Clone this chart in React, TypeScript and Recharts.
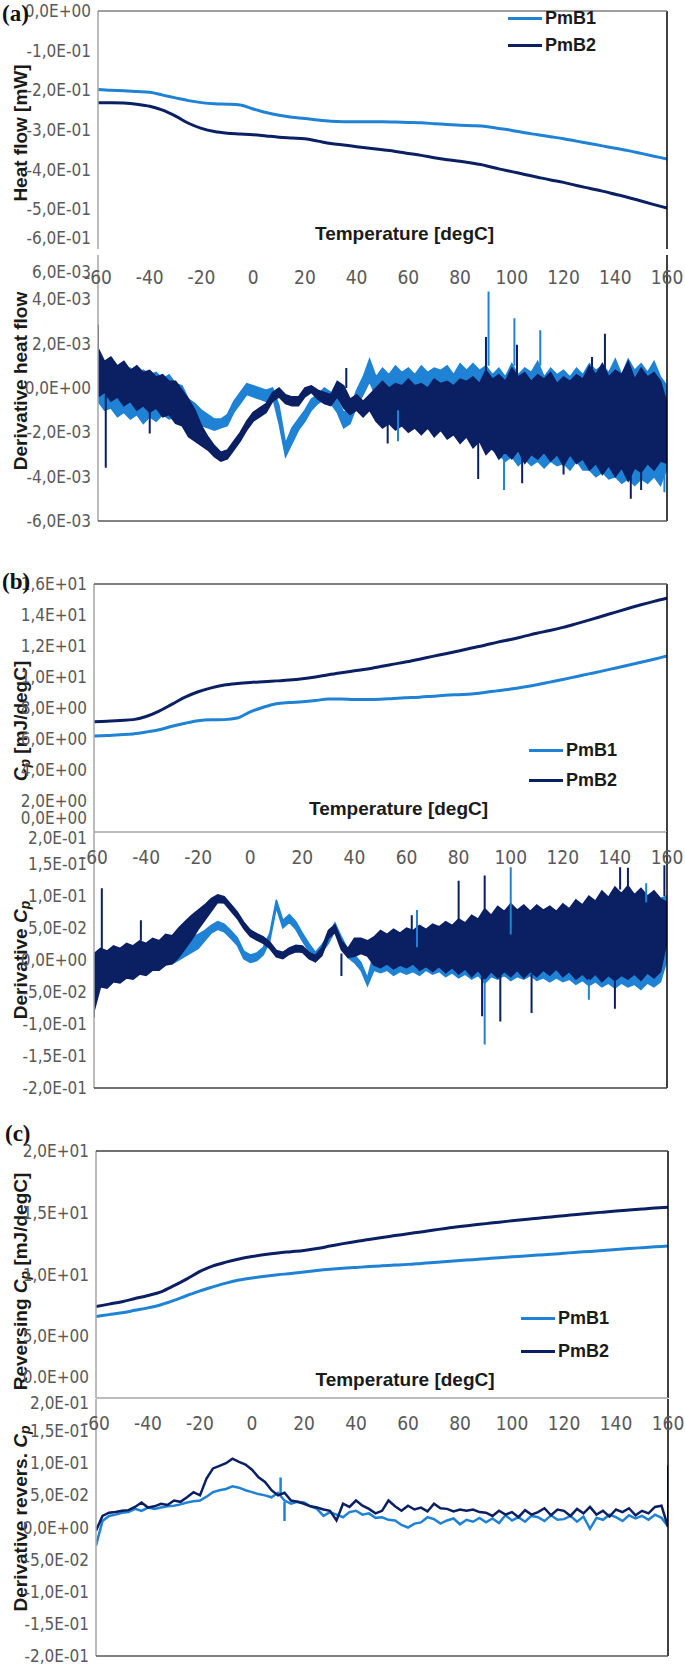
import React from 'react';
import { ComposedChart, Line, Area, XAxis, YAxis, ReferenceLine, Legend } from 'recharts';

const LIGHT = '#1f82d4';
const DARK = '#0b1f63';
const NARROW = "'Liberation Sans Narrow', 'Arial Narrow', 'DejaVu Sans Condensed', sans-serif";
const SANS = "'Liberation Sans', Arial, sans-serif";

const tempTicks = [-60, -40, -20, 0, 20, 40, 60, 80, 100, 120, 140, 160];

// smooth curves, read every 5 degC
const smoothTemps = [-60, -55, -50, -45, -40, -35, -30, -25, -20, -15, -10, -5, 0, 5, 10, 15, 20, 25, 30, 35, 40, 45, 50, 55, 60, 65, 70, 75, 80, 85, 90, 95, 100, 105, 110, 115, 120, 125, 130, 135, 140, 145, 150, 155, 160];
const hfB1 = [-0.198, -0.200, -0.201, -0.203, -0.205, -0.212, -0.219, -0.226, -0.231, -0.234, -0.235, -0.237, -0.247, -0.256, -0.263, -0.268, -0.271, -0.275, -0.278, -0.279, -0.279, -0.279, -0.279, -0.280, -0.281, -0.282, -0.284, -0.286, -0.288, -0.289, -0.291, -0.296, -0.301, -0.307, -0.312, -0.317, -0.322, -0.328, -0.334, -0.340, -0.346, -0.352, -0.359, -0.366, -0.373];
const hfB2 = [-0.231, -0.231, -0.232, -0.235, -0.240, -0.250, -0.265, -0.283, -0.296, -0.304, -0.308, -0.310, -0.312, -0.315, -0.318, -0.320, -0.322, -0.328, -0.334, -0.338, -0.342, -0.346, -0.350, -0.354, -0.359, -0.364, -0.370, -0.375, -0.379, -0.384, -0.390, -0.398, -0.405, -0.412, -0.419, -0.426, -0.432, -0.440, -0.447, -0.454, -0.462, -0.470, -0.479, -0.488, -0.497];
const cpB1 = [6.19, 6.22, 6.27, 6.33, 6.45, 6.6, 6.82, 7.02, 7.18, 7.24, 7.25, 7.35, 7.75, 8.05, 8.28, 8.35, 8.4, 8.48, 8.58, 8.58, 8.55, 8.55, 8.57, 8.62, 8.66, 8.7, 8.76, 8.82, 8.86, 8.9, 9.0, 9.12, 9.22, 9.35, 9.5, 9.67, 9.84, 10.02, 10.2, 10.38, 10.57, 10.76, 10.95, 11.15, 11.35];
const cpB2 = [7.12, 7.15, 7.2, 7.25, 7.45, 7.8, 8.25, 8.7, 9.05, 9.3, 9.48, 9.58, 9.65, 9.7, 9.75, 9.8, 9.88, 10.0, 10.15, 10.28, 10.4, 10.52, 10.68, 10.83, 10.98, 11.15, 11.33, 11.5, 11.68, 11.87, 12.05, 12.25, 12.42, 12.62, 12.82, 13.0, 13.2, 13.43, 13.67, 13.92, 14.17, 14.42, 14.66, 14.88, 15.08];
const revB1 = [6.6, 6.75, 6.9, 7.1, 7.3, 7.55, 7.9, 8.3, 8.68, 9.0, 9.3, 9.55, 9.72, 9.86, 9.98, 10.08, 10.2, 10.32, 10.42, 10.5, 10.57, 10.64, 10.7, 10.76, 10.82, 10.9, 10.98, 11.05, 11.13, 11.2, 11.28, 11.36, 11.43, 11.5, 11.57, 11.64, 11.72, 11.8, 11.87, 11.95, 12.02, 12.1, 12.17, 12.24, 12.31];
const revB2 = [7.4, 7.6, 7.8, 8.05, 8.3, 8.6, 9.1, 9.65, 10.25, 10.7, 11.0, 11.25, 11.45, 11.62, 11.75, 11.85, 11.95, 12.1, 12.3, 12.5, 12.68, 12.83, 13.0, 13.15, 13.3, 13.45, 13.6, 13.75, 13.88, 14.0, 14.12, 14.24, 14.35, 14.46, 14.56, 14.66, 14.76, 14.86, 14.96, 15.05, 15.14, 15.22, 15.3, 15.38, 15.44];

// derivative curves, read every 2.5 degC (noisy parts as low/high band edges)
const derivTemps = [-60, -57.5, -55, -52.5, -50, -47.5, -45, -42.5, -40, -37.5, -35, -32.5, -30, -27.5, -25, -22.5, -20, -17.5, -15, -12.5, -10, -7.5, -5, -2.5, 0, 2.5, 5, 7.5, 10, 12.5, 15, 17.5, 20, 22.5, 25, 27.5, 30, 32.5, 35, 37.5, 40, 42.5, 45, 47.5, 50, 52.5, 55, 57.5, 60, 62.5, 65, 67.5, 70, 72.5, 75, 77.5, 80, 82.5, 85, 87.5, 90, 92.5, 95, 97.5, 100, 102.5, 105, 107.5, 110, 112.5, 115, 117.5, 120, 122.5, 125, 127.5, 130, 132.5, 135, 137.5, 140, 142.5, 145, 147.5, 150, 152.5, 155, 157.5, 160];

// derivative heat flow, x1e-3
const dhfB1Lo = [-0.6, -1.0, -0.9, -1.3, -1.1, -1.4, -1.2, -1.6, -1.3, -1.5, -1.2, -1.4, -1.3, -1.2,
  -1.3, -1.5, -1.7, -1.8, -1.9, -1.8, -1.7, -1.1, -0.7, -0.3, -0.4, -0.5, -0.6, -0.4, -1.6, -3.1, -2.5, -1.9, -1.5, -1.0, -0.7, -0.5, -0.7, -1.1, -1.8, -1.6, -0.8, -0.3, 0.3,
  -0.4, -0.8, -1.0, -0.9, -1.1, -1.0, -1.2, -1.1, -1.3, -1.2, -1.4, -1.3, -1.6, -1.5, -1.8, -1.7, -2.1, -2.4, -2.8, -3.0, -3.3, -3.1, -3.5, -3.2, -3.5, -3.3, -3.6, -3.3, -3.5, -3.4, -3.7, -3.3, -3.7, -3.7, -4.0, -3.8, -4.1, -4.0, -4.3, -4.1, -4.4, -4.1, -4.3, -4.0, -4.4, -3.6];
const dhfB1Hi = [1.6, 1.1, 0.9, 1.0, 0.8, 0.9, 0.6, 0.8, 0.6, 0.7, 0.4, 0.6, 0.2, 0.1,
  -0.5, -0.7, -1.0, -1.2, -1.4, -1.4, -1.2, -0.6, -0.2, 0.2, 0.1, 0.0, -0.1, 0.0, -0.8, -2.5, -1.8, -1.4, -1.0, -0.5, -0.3, 0.0, -0.2, -0.5, -1.1, -0.9, -0.1, 0.5, 1.3,
  0.5, 0.9, 0.6, 1.0, 0.7, 0.9, 0.6, 1.0, 0.7, 0.9, 0.8, 1.0, 0.6, 1.1, 0.8, 1.1, 0.8, 1.0, 0.6, 0.9, 0.5, 1.1, 0.6, 0.9, 0.7, 1.2, 0.5, 0.9, 0.6, 0.8, 0.5, 0.9, 0.6, 1.1, 0.8, 1.0, 0.7, 1.3, 0.6, 1.3, 0.8, 1.1, 0.7, 1.2, 0.5, 0.1];
const dhfB2Lo = [-0.4, -0.2, -0.6, -0.4, -0.8, -0.6, -1.0, -0.8, -1.1, -0.9, -1.3, -1.2, -1.6, -1.7,
  -2.2, -2.4, -2.6, -2.8, -3.1, -3.3, -3.2, -2.8, -2.4, -1.9, -1.5, -1.3, -1.1, -0.6, -0.4, -0.7, -0.8, -0.8, -0.4, -0.2, -0.5, -0.7, -0.8, -0.4, -0.9, -1.2, -1.0, -1.3, -1.0,
  -1.5, -1.8, -1.6, -1.9, -1.7, -2.0, -1.8, -2.1, -1.8, -2.2, -1.9, -2.3, -2.1, -2.5, -2.2, -2.7, -2.4, -3.0, -2.7, -3.2, -2.9, -3.2, -2.8, -3.4, -3.0, -3.2, -2.9, -3.3, -3.0, -3.5, -3.0, -3.4, -3.2, -3.7, -3.4, -3.9, -3.5, -4.0, -3.6, -4.2, -3.6, -3.8, -3.4, -3.7, -3.3, -3.4];
const dhfB2Hi = [1.8, 1.2, 1.4, 1.0, 1.2, 0.8, 1.0, 0.7, 0.8, 0.5, 0.6, 0.3, 0.3, -0.1,
  -0.5, -1.0, -1.7, -2.2, -2.6, -2.9, -2.8, -2.4, -2.0, -1.5, -1.1, -0.9, -0.7, -0.2, 0.0, -0.3, -0.4, -0.4, 0.0, 0.1, -0.1, -0.2, -0.3, 0.3, 0.1, -0.5, -0.3, -0.6, -0.3,
  0.0, 0.3, 0.0, 0.2, 0.1, 0.4, 0.1, 0.2, 0.0, 0.4, 0.2, 0.3, 0.1, 0.4, 0.3, 0.5, 0.2, 0.8, 0.4, 0.6, 0.3, 0.9, 0.5, 0.7, 0.3, 0.6, 0.4, 0.7, 0.2, 0.5, 0.3, 0.6, 0.4, 1.0, 0.6, 1.1, 0.5, 0.8, 0.6, 1.2, 0.4, 0.9, 0.5, 0.7, 0.3, -0.7];
// [temp, from, to]
const dhfB1Spikes = [[56, -1.0, -2.4], [91, 1.0, 4.35], [97, -3.0, -4.6], [101, 1.0, 3.15], [111, 1.0, 2.6], [159, -3.5, -4.7]];
const dhfB2Spikes = [[-60, 1.5, 2.85], [-57, -0.3, -3.6], [-40, -1.0, -2.05], [36, 0.0, 0.9], [52, -1.5, -2.5], [87, -2.4, -4.1], [90, 0.4, 2.3], [102, 0.5, 1.95], [104, -3.0, -4.3], [120, -3.3, -3.9], [131, 0.5, 1.4], [136, 0.5, 2.45], [146, -3.8, -5.0], [150, -3.5, -4.6]];

// derivative Cp, x1e-2
const dcpB1Lo = [-5.0, -3.6, -3.4, -2.8, -2.8, -2.2, -2.2, -1.6, -1.8, -1.0, -1.2, -0.6, -0.6, 0.0,
  0.6, 1.2, 1.8, 3.0, 4.2, 4.8, 4.4, 3.4, 2.3, 0.2, -0.4, -0.1, 0.8, 3.0, 8.2, 5.0, 5.9, 4.8, 3.0, 1.4, 0.0, 1.2, 2.6, 4.6, 2.4, 0.4, -0.4, -1.6, -4.0,
  -1.6, -2.0, -1.6, -2.4, -1.8, -2.2, -1.8, -2.4, -1.6, -2.2, -1.8, -2.6, -2.0, -2.8, -2.2, -3.0, -2.4, -3.6, -2.6, -3.0, -2.4, -3.2, -2.6, -3.0, -2.4, -3.2, -2.8, -3.4, -2.8, -3.4, -3.0, -3.8, -3.2, -4.0, -3.4, -4.2, -3.6, -4.4, -3.6, -4.2, -3.8, -4.6, -3.6, -4.2, -3.4, 0.0];
const dcpB1Hi = [0.0, 1.2, 1.0, 2.0, 1.8, 2.4, 2.2, 2.8, 2.4, 3.0, 2.8, 3.4, 3.0, 3.2,
  3.2, 3.6, 4.0, 4.6, 5.4, 6.0, 5.6, 4.6, 3.5, 1.4, 0.8, 1.1, 2.0, 4.2, 9.4, 6.2, 7.1, 6.0, 4.2, 2.6, 1.2, 2.4, 3.8, 5.8, 3.6, 1.6, 0.8, -0.4, -2.8,
  1.2, 2.2, 1.6, 2.4, 1.8, 2.2, 1.6, 2.6, 1.8, 2.4, 2.0, 2.4, 1.8, 2.8, 2.2, 3.2, 2.4, 3.4, 2.8, 4.0, 3.2, 4.6, 3.6, 4.4, 3.8, 4.8, 4.0, 5.4, 4.4, 5.6, 4.8, 6.4, 5.4, 7.2, 6.0, 7.8, 6.8, 8.4, 7.4, 9.4, 8.4, 10.0, 9.0, 10.6, 9.6, 10.0];
const dcpB2Lo = [-8.0, -4.2, -4.4, -3.4, -3.6, -2.8, -3.0, -2.2, -2.4, -1.6, -1.6, -0.8, -0.6, 0.4,
  1.8, 3.2, 4.8, 6.2, 7.6, 9.0, 8.9, 7.7, 6.5, 4.9, 3.7, 3.1, 2.6, 1.8, 0.5, 0.2, 0.9, 1.3, 1.2, 0.2, -0.3, 0.7, 3.4, 4.3, 1.6, 0.4, 0.6, 1.0, 0.6,
  -0.8, -1.2, -0.6, -1.4, -0.8, -1.2, -0.6, -1.6, -1.0, -1.8, -1.0, -2.0, -1.2, -2.2, -1.4, -2.6, -1.6, -3.0, -1.8, -2.8, -1.8, -2.6, -1.6, -2.8, -1.8, -2.6, -1.6, -2.4, -1.4, -2.6, -1.8, -3.0, -2.2, -3.2, -2.2, -3.4, -2.4, -3.2, -2.4, -3.0, -2.2, -3.2, -2.0, -2.8, -1.8, 3.0];
const dcpB2Hi = [1.0, 1.8, 1.4, 2.2, 1.8, 2.6, 2.2, 3.0, 2.6, 3.4, 3.0, 4.0, 3.8, 5.0,
  6.0, 7.0, 7.8, 8.6, 9.6, 10.2, 9.9, 8.7, 7.5, 5.9, 4.7, 4.1, 3.6, 2.8, 1.5, 1.2, 1.9, 2.3, 2.2, 1.2, 0.7, 1.9, 4.6, 5.5, 3.0, 1.8, 3.4, 3.4, 3.0,
  3.6, 4.6, 4.0, 4.8, 4.2, 5.0, 4.6, 5.4, 4.8, 5.6, 5.2, 6.0, 5.4, 6.4, 5.8, 7.0, 6.4, 8.0, 7.0, 8.4, 7.6, 8.8, 7.8, 8.6, 7.6, 8.6, 7.8, 8.4, 7.6, 8.8, 8.0, 9.4, 8.6, 10.0, 9.2, 10.8, 9.8, 11.4, 10.4, 11.6, 10.2, 11.2, 10.0, 10.8, 9.6, 9.0];
const dcpB1Spikes = [[64, 2.0, 7.8], [90, -3.0, -13.2], [100, 4.0, 14.5], [130, -3.0, -6.2], [152, 9.0, 12.0]];
const dcpB2Spikes = [[-60, -5.0, -9.0], [-57, 1.5, 11.2], [-42, 3.0, 6.2], [35, 1.0, -2.5], [62, 4.0, 7.0], [80, 6.0, 12.4], [89, -2.4, -8.8], [90, 8.0, 13.2], [96, -2.2, -9.6], [108, -2.2, -8.3], [140, -3.0, -7.6], [142, 11.0, 14.5], [145, 11.0, 14.4], [159, 10.0, 14.8]];

// derivative reversing Cp, x1e-2
const drevB1 = [-2.8, 1.0, 1.8, 2.0, 2.3, 2.4, 2.9, 2.6, 3.1, 2.9, 3.1, 3.3, 3.4, 3.6, 3.9, 4.1, 4.2, 4.8, 5.5, 5.8, 6.0, 6.4, 6.2, 5.8, 5.5, 5.2, 5.0, 4.7, 5.4, 4.2, 3.7, 4.0, 3.9, 3.3, 2.9, 1.8, 2.4, 2.0, 1.6, 2.4, 2.6, 2.0, 2.2, 1.5, 1.6, 1.2, 1.1, 0.4, 0.0, 0.6, 0.8, 1.6, 1.3, 0.6, 1.1, 1.4, 0.5, 1.2, 0.9, 1.5, 0.8, 1.4, 0.7, 1.9, 1.1, 1.6, 0.9, 1.8, 1.6, 1.0, 1.9, 1.2, 1.3, 1.8, 0.9, 1.7, -0.2, 1.5, 1.2, 2.0, 1.6, 1.0, 1.9, 1.4, 1.8, 1.2, 2.0, 1.5, 0.2];
const drevB2 = [-0.5, 1.8, 2.3, 2.4, 2.6, 2.7, 3.2, 3.9, 3.1, 3.3, 3.7, 3.5, 4.2, 4.0, 4.7, 5.5, 5.0, 7.6, 9.2, 9.6, 10.0, 10.7, 10.2, 9.8, 9.0, 7.8, 7.1, 5.8, 5.0, 5.4, 4.2, 4.0, 3.7, 3.3, 3.1, 2.8, 2.6, 1.1, 3.7, 3.2, 4.2, 3.4, 2.9, 2.2, 2.6, 4.2, 3.3, 2.6, 3.4, 2.8, 3.1, 2.5, 3.7, 3.0, 2.9, 2.5, 2.8, 2.6, 2.8, 2.4, 2.3, 1.8, 2.6, 2.0, 2.4, 1.6, 2.7, 2.0, 2.4, 3.0, 1.9, 2.8, 2.6, 1.8, 2.9, 2.2, 3.2, 2.0, 2.6, 1.7, 2.8, 2.4, 3.0, 1.9, 2.6, 2.2, 3.2, 3.4, 0.1];
const drevB1Spikes = [[11, 5.0, 7.8], [12.5, 4.0, 1.0]];
const drevB2Spikes = [[160, 0.1, 9.7]];

const smoothRows = (a: number[], b: number[]) => smoothTemps.map((t, i) => ({ t, b1: a[i], b2: b[i] }));
const bandRows = (lo1: number[], hi1: number[], lo2: number[], hi2: number[]) =>
  derivTemps.map((t, i) => ({ t, b1: [lo1[i], hi1[i]], b2: [lo2[i], hi2[i]] }));
const lineRows = (a: number[], b: number[]) => derivTemps.map((t, i) => ({ t, b1: a[i], b2: b[i] }));
const spikeRows = (s: number[][]) => s.flatMap(([t, from, to]) => [{ t, v: from }, { t, v: to }, { t, v: null }]);

// Excel style "1,5E-01"
function sci(v: number, zero = '0,0E+00') {
  if (Math.abs(v) < 1e-12) return zero;
  const e = Math.floor(Math.log10(Math.abs(v)) + 1e-9);
  const m = (v / Math.pow(10, e)).toFixed(1).replace('.', ',');
  return `${m}E${e < 0 ? '-' : '+'}${String(Math.abs(e)).padStart(2, '0')}`;
}

function LegendBox({ payload, row }: any) {
  return (
    <div>
      {(payload || []).map((e: any) => (
        <div key={e.value} style={{ display: 'flex', alignItems: 'center', height: row }}>
          <span style={{ display: 'inline-block', width: 34, height: 3, background: e.color }} />
          <span style={{ marginLeft: 3, font: `bold 18px ${SANS}`, color: '#1a1a1a' }}>{e.value}</span>
        </div>
      ))}
    </div>
  );
}

// recharts clones label elements with its own x/y, so the real coordinates go in other props
function RotTitle({ tx, ty, children }: any) {
  return (
    <text transform={`rotate(-90 ${tx} ${ty})`} x={tx} y={ty} textAnchor="middle" dominantBaseline="central"
      fontSize={19} fontWeight="bold" fontFamily={SANS} fill="#1a1a1a">
      {children}
    </text>
  );
}

function TempTitle({ tx, ty }: any) {
  return (
    <text x={tx} y={ty} textAnchor="middle" dominantBaseline="central" fontSize={19} fontWeight="bold" fontFamily={SANS} fill="#1a1a1a">
      Temperature [degC]
    </text>
  );
}

type PanelProps = {
  left: number; right: number; top: number; bottom: number;
  yDomain: [number, number]; yTicks: number[]; yScale?: number; zero?: string;
  yShift?: Record<string, number>;
  xLabelDy?: number;
  yTitle: React.ReactNode; yTitleDy?: number;
  tempTitle?: { dx: number; dy: number };
  topLine?: string; bottomLine?: string;
  legend?: { left: number; top: number; row: number };
  data: any[];
  series: React.ReactElement[];
};

function Panel(p: PanelProps) {
  const padTop = Math.min(40, p.top);
  const padBottom = 40;
  const svgTop = p.top - padTop;
  const height = p.bottom - p.top + padTop + padBottom;
  const xAxisH = p.xLabelDy != null ? 20 : 0;
  const yW = 60;
  const scale = p.yScale ?? 1;
  const sy = (y: number) => y - svgTop;

  const yTick = (t: any) => {
    const v = t.payload.value;
    const dy = (p.yShift && p.yShift[String(v)]) || 0;
    return (
      <text x={t.x} y={t.y + dy} textAnchor="end" dominantBaseline="central" fontSize={17} fontFamily={NARROW} fill="#595959">
        {sci(v * scale, p.zero)}
      </text>
    );
  };
  const xTick = (t: any) => (
    <text x={t.x} y={t.y + (p.xLabelDy ?? 0)} textAnchor="middle" dominantBaseline="central" fontSize={19} fontFamily={NARROW} fill="#595959">
      {t.payload.value}
    </text>
  );
  const yTitle = <RotTitle tx={20} ty={sy((p.top + p.bottom) / 2 + (p.yTitleDy ?? 0))}>{p.yTitle}</RotTitle>;
  const tempTitle = p.tempTitle ? (
    <TempTitle tx={(p.left + p.right) / 2 + p.tempTitle.dx} ty={sy(p.bottom + p.tempTitle.dy)} />
  ) : undefined;

  return (
    <div style={{ position: 'absolute', left: 0, top: svgTop }}>
      <ComposedChart width={685} height={height} data={p.data}
        margin={{ top: padTop - xAxisH, bottom: padBottom, left: p.left - yW, right: 685 - p.right }}>
        <XAxis type="number" dataKey="t" domain={[-60, 160]} ticks={tempTicks} allowDataOverflow interval={0}
          orientation="top" height={xAxisH} hide={p.xLabelDy == null} axisLine={false} tickLine={false}
          tickSize={0} tickMargin={0} tick={xTick} />
        <YAxis type="number" domain={p.yDomain} ticks={p.yTicks} allowDataOverflow interval={0} width={yW}
          axisLine={false} tickLine={false} tickSize={0} tickMargin={7} tick={yTick} label={yTitle} />
        {p.series}
        <ReferenceLine x={-60} stroke="#a6a6a6" strokeWidth={1.5} />
        <ReferenceLine x={160} stroke="#000000" strokeWidth={1.5} />
        {p.topLine ? <ReferenceLine y={p.yDomain[1]} stroke={p.topLine} strokeWidth={1.5} /> : null}
        <ReferenceLine y={p.yDomain[0]} stroke={p.bottomLine ?? 'none'} strokeWidth={1.5} label={tempTitle} />
        {p.legend ? (
          <Legend layout="vertical" align="center" verticalAlign="middle"
            wrapperStyle={{ left: p.legend.left, top: p.legend.top - svgTop, width: 120, height: 'auto' }}
            content={(lp: any) => <LegendBox payload={lp.payload} row={p.legend!.row} />} />
        ) : null}
      </ComposedChart>
    </div>
  );
}

const smoothSeries = [
  <Line key="b1" dataKey="b1" name="PmB1" type="monotone" stroke={LIGHT} strokeWidth={3} dot={false} activeDot={false} isAnimationActive={false} />,
  <Line key="b2" dataKey="b2" name="PmB2" type="monotone" stroke={DARK} strokeWidth={3} dot={false} activeDot={false} isAnimationActive={false} />,
];

const bandSeries = (s1: number[][], s2: number[][]) => [
  <Area key="a1" dataKey="b1" type="linear" stroke={LIGHT} strokeWidth={1.5} fill={LIGHT} fillOpacity={1} dot={false} activeDot={false} legendType="none" isAnimationActive={false} />,
  <Line key="s1" data={spikeRows(s1)} dataKey="v" type="linear" stroke={LIGHT} strokeWidth={2} dot={false} activeDot={false} legendType="none" isAnimationActive={false} />,
  <Area key="a2" dataKey="b2" type="linear" stroke={DARK} strokeWidth={1.5} fill={DARK} fillOpacity={1} dot={false} activeDot={false} legendType="none" isAnimationActive={false} />,
  <Line key="s2" data={spikeRows(s2)} dataKey="v" type="linear" stroke={DARK} strokeWidth={2} dot={false} activeDot={false} legendType="none" isAnimationActive={false} />,
];

const revSeries = [
  <Line key="b1" dataKey="b1" type="linear" stroke={LIGHT} strokeWidth={2.5} dot={false} activeDot={false} legendType="none" isAnimationActive={false} />,
  <Line key="s1" data={spikeRows(drevB1Spikes)} dataKey="v" type="linear" stroke={LIGHT} strokeWidth={2.5} dot={false} activeDot={false} legendType="none" isAnimationActive={false} />,
  <Line key="b2" dataKey="b2" type="linear" stroke={DARK} strokeWidth={2.5} dot={false} activeDot={false} legendType="none" isAnimationActive={false} />,
  <Line key="s2" data={spikeRows(drevB2Spikes)} dataKey="v" type="linear" stroke={DARK} strokeWidth={2} dot={false} activeDot={false} legendType="none" isAnimationActive={false} />,
];

const Cp = (
  <>
    <tspan fontStyle="italic">C</tspan>
    <tspan fontStyle="italic" fontSize={14} dy={5}>p</tspan>
  </>
);

const panelLabel: React.CSSProperties = { position: 'absolute', font: "bold 23px 'Liberation Serif', serif", color: '#111' };

export default function App() {
  return (
    <div style={{ position: 'absolute', left: 0, top: 0, width: 685, height: 1667, background: '#fff', overflow: 'hidden' }}>
      <Panel left={98} right={667} top={11} bottom={249} yDomain={[-0.6, 0]}
        yTicks={[-0.6, -0.5, -0.4, -0.3, -0.2, -0.1, 0]} yShift={{ '-0.6': -11 }}
        yTitle="Heat flow [mW]" yTitleDy={3} tempTitle={{ dx: 22, dy: -16 }} topLine="#7f7f7f"
        legend={{ left: 508, top: 5, row: 27 }} data={smoothRows(hfB1, hfB2)} series={smoothSeries} />
      <Panel left={98} right={667} top={255} bottom={521} yDomain={[-6, 6]} yScale={1e-3}
        yTicks={[-6, -4, -2, 0, 2, 4, 6]} yShift={{ '6': 17 }} xLabelDy={22}
        yTitle="Derivative heat flow" yTitleDy={-7} bottomLine="#595959"
        data={bandRows(dhfB1Lo, dhfB1Hi, dhfB2Lo, dhfB2Hi)} series={bandSeries(dhfB1Spikes, dhfB2Spikes)} />

      <Panel left={94} right={667} top={584} bottom={832} yDomain={[0, 16]}
        yTicks={[0, 2, 4, 6, 8, 10, 12, 14, 16]} yShift={{ '0': -14 }}
        yTitle={<>{Cp}<tspan dy={-5}> [mJ/degC]</tspan></>} yTitleDy={13} tempTitle={{ dx: 18, dy: -24 }}
        topLine="#595959" bottomLine="#a6a6a6"
        legend={{ left: 529, top: 735, row: 30 }} data={smoothRows(cpB1, cpB2)} series={smoothSeries} />
      <Panel left={94} right={667} top={832} bottom={1088} yDomain={[-20, 20]} yScale={1e-2}
        yTicks={[-20, -15, -10, -5, 0, 5, 10, 15, 20]} yShift={{ '20': 6 }} xLabelDy={25}
        yTitle={<><tspan>Derivative </tspan>{Cp}</>} bottomLine="#404040"
        data={bandRows(dcpB1Lo, dcpB1Hi, dcpB2Lo, dcpB2Hi)} series={bandSeries(dcpB1Spikes, dcpB2Spikes)} />

      <Panel left={96} right={668} top={1151} bottom={1398} yDomain={[0, 20]} zero="0.0E+00"
        yTicks={[0, 5, 10, 15, 20]} yShift={{ '0': -21 }}
        yTitle={<><tspan>Reversing </tspan>{Cp}<tspan dy={-5}> [mJ/degC]</tspan></>} yTitleDy={7}
        tempTitle={{ dx: 23, dy: -19 }} topLine="#404040" bottomLine="#a6a6a6"
        legend={{ left: 521, top: 1302, row: 33 }} data={smoothRows(revB1, revB2)} series={smoothSeries} />
      <Panel left={96} right={668} top={1399} bottom={1656} yDomain={[-20, 20]} yScale={1e-2}
        yTicks={[-20, -15, -10, -5, 0, 5, 10, 15, 20]} yShift={{ '20': 4 }} xLabelDy={24}
        yTitle={<><tspan>Derivative revers. </tspan>{Cp}</>} yTitleDy={-9} bottomLine="#595959"
        data={lineRows(drevB1, drevB2)} series={revSeries} />

      <div style={{ ...panelLabel, left: 2, top: 1 }}>(a)</div>
      <div style={{ ...panelLabel, left: 2, top: 569 }}>(b)</div>
      <div style={{ ...panelLabel, left: 5, top: 1121 }}>(c)</div>
    </div>
  );
}
